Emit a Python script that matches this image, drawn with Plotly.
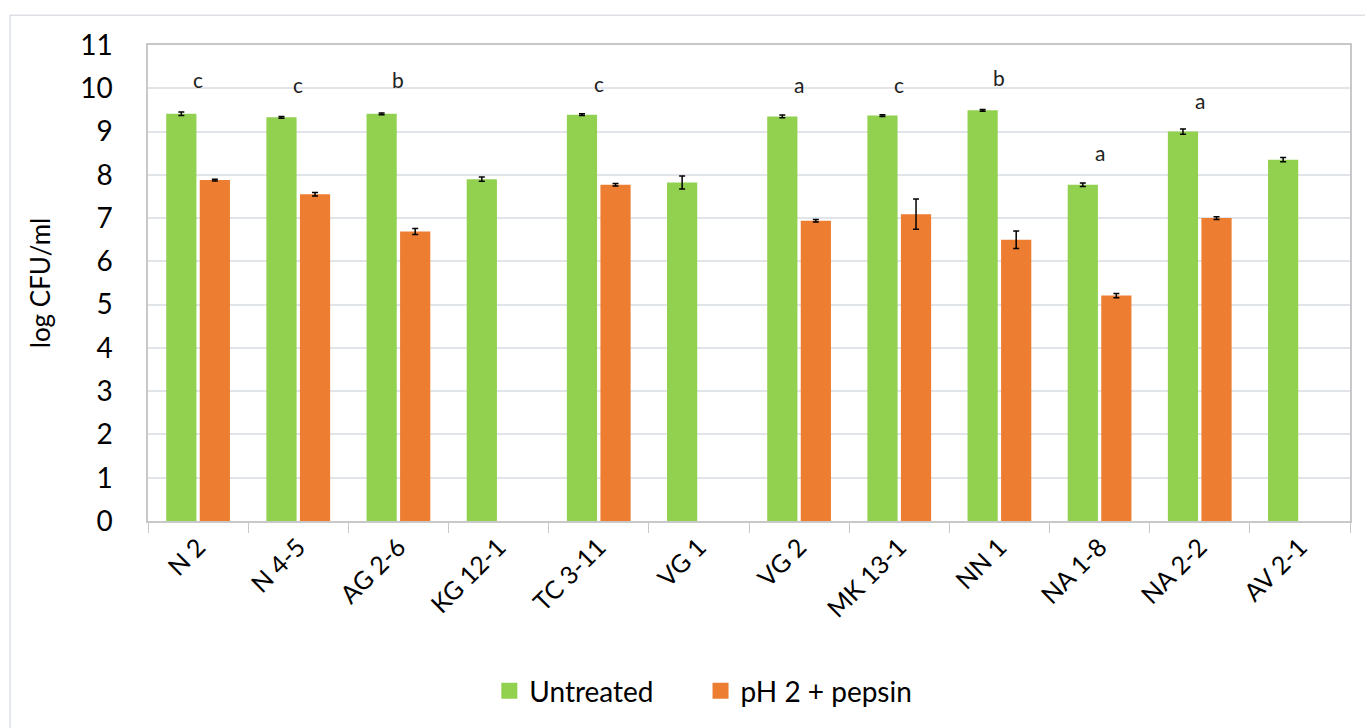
import plotly.graph_objects as go

categories = ["N 2", "N 4-5", "AG 2-6", "KG 12-1", "TC 3-11", "VG 1", "VG 2",
              "MK 13-1", "NN 1", "NA 1-8", "NA 2-2", "AV 2-1"]
untreated = [9.41, 9.33, 9.41, 7.90, 9.39, 7.82, 9.35, 9.37, 9.49, 7.77, 9.00, 8.35]
untreated_err = [0.04, 0.02, 0.02, 0.05, 0.02, 0.15, 0.03, 0.02, 0.02, 0.04, 0.06, 0.05]
treated = [7.88, 7.55, 6.69, None, 7.77, None, 6.94, 7.09, 6.50, 5.21, 7.00, None]
treated_err = [0.02, 0.04, 0.07, 0, 0.03, 0, 0.03, 0.35, 0.20, 0.05, 0.03, 0]
letters = ["c", "c", "b", "", "c", "", "a", "c", "b", "a", "a", ""]
letter_y = [10.2, 10.08, 10.2, None, 10.12, None, 10.08, 10.08, 10.24, 8.52, 9.72, None]

GREEN = "#92d050"
ORANGE = "#ed7d31"
FONT = "Lato, 'Open Sans', sans-serif"

fig = go.Figure()
fig.add_trace(go.Bar(
    x=categories, y=untreated, name="Untreated", showlegend=False,
    marker=dict(color=GREEN, line=dict(width=0)),
    error_y=dict(type="data", array=untreated_err, color="black", thickness=1.5, width=3),
))
fig.add_trace(go.Bar(
    x=categories, y=treated, name="pH 2 + pepsin", showlegend=False,
    marker=dict(color=ORANGE, line=dict(width=0)),
    error_y=dict(type="data", array=treated_err, color="black", thickness=1.5, width=3),
))
# legend entries with larger square swatches
for nm, col in [("Untreated\u2003\u2003", GREEN), ("pH 2 + pepsin", ORANGE)]:
    fig.add_trace(go.Scatter(x=[None], y=[None], mode="markers", name=nm,
                             marker=dict(symbol="square", size=21, color=col)))

for c, t, yv in zip(categories, letters, letter_y):
    if t:
        fig.add_annotation(x=c, y=yv, text=t, showarrow=False,
                           font=dict(size=21, color="#222", family=FONT))

# outer chart frame
fig.add_shape(type="rect", xref="paper", yref="paper",
              x0=-0.1148, x1=1.05, y0=-0.6, y1=1.0626,
              line=dict(color="#dde1e6", width=1.5), layer="below")

fig.update_layout(
    width=1365, height=728,
    margin=dict(l=148, r=15, t=45, b=204),
    paper_bgcolor="white", plot_bgcolor="white",
    barmode="group", bargap=0.33, bargroupgap=0.1,
    font=dict(family=FONT, color="black"),
    showlegend=True,
    legend=dict(orientation="h", x=0.462, xanchor="center", y=-0.357, yanchor="middle",
                font=dict(size=28, family=FONT), itemwidth=30,
                traceorder="normal"),
    xaxis=dict(
        tickangle=-45, tickfont=dict(size=25, family=FONT),
        showline=True, linecolor="#c8c8c8", linewidth=1.5, mirror=True,
        ticks="outside", tickson="boundaries", ticklen=10, tickcolor="#c8c8c8",
        showgrid=False,
    ),
    yaxis=dict(
        range=[0, 11], dtick=1, tickfont=dict(size=28, family=FONT),
        showgrid=True, gridcolor="#e1e5ea", gridwidth=1.5,
        showline=True, linecolor="#c8c8c8", linewidth=1.5, mirror=True,
        zeroline=False, ticks="", ticklabelstandoff=28,
        title=dict(text="log CFU/ml", font=dict(size=26, family=FONT), standoff=22),
    ),
)

fig.write_html("out.html")
